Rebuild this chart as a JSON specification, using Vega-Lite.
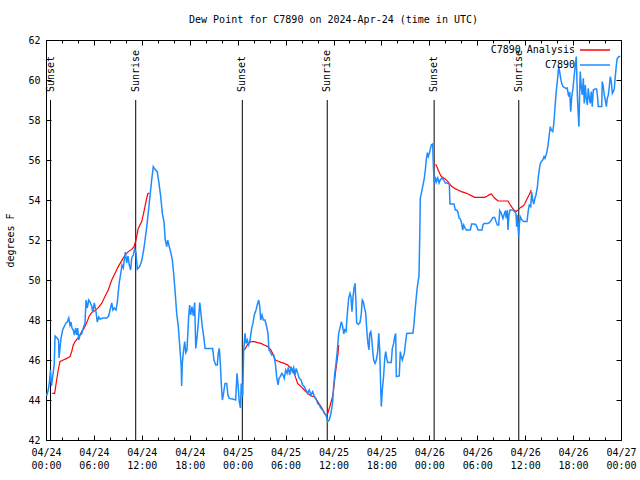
{
"$schema":"https://vega.github.io/schema/vega-lite/v6.json",
"width":575,"height":400,
"autosize":{"type":"none"},
"padding":{"left":46,"top":40,"right":19,"bottom":40},
"title":{"text":"Dew Point for C7890 on 2024-Apr-24 (time in UTC)","font":"DejaVu Sans Mono","fontSize":10,"fontWeight":"normal","color":"black","anchor":"middle","offset":10},
"config":{
 "view":{"stroke":"black","strokeWidth":1},
 "axis":{"labelFont":"DejaVu Sans Mono","labelFontSize":10,"labelColor":"black","titleFont":"DejaVu Sans Mono","titleFontSize":10,"titleFontWeight":"normal","titleColor":"black","tickColor":"black","tickWidth":1,"domain":false,"grid":false},
 "legend":{"labelFont":"DejaVu Sans Mono","labelFontSize":10,"labelColor":"black"}
},
"datasets":{
"analysis":[
{"t":"2024-04-24T00:47Z","v":44.33},{"t":"2024-04-24T01:05Z","v":44.33},{"t":"2024-04-24T01:20Z","v":45.0},{"t":"2024-04-24T01:32Z","v":45.5},{"t":"2024-04-24T01:45Z","v":45.92},{"t":"2024-04-24T02:10Z","v":46.0},{"t":"2024-04-24T02:36Z","v":46.08},{"t":"2024-04-24T03:00Z","v":46.17},{"t":"2024-04-24T03:13Z","v":46.42},{"t":"2024-04-24T03:25Z","v":46.75},{"t":"2024-04-24T03:38Z","v":46.92},{"t":"2024-04-24T03:51Z","v":47.03},{"t":"2024-04-24T04:10Z","v":47.17},{"t":"2024-04-24T04:28Z","v":47.42},{"t":"2024-04-24T04:46Z","v":47.58},{"t":"2024-04-24T05:06Z","v":47.87},{"t":"2024-04-24T05:25Z","v":48.2},{"t":"2024-04-24T05:43Z","v":48.37},{"t":"2024-04-24T06:08Z","v":48.47},{"t":"2024-04-24T06:33Z","v":48.62},{"t":"2024-04-24T06:58Z","v":48.83},{"t":"2024-04-24T07:23Z","v":49.17},{"t":"2024-04-24T07:48Z","v":49.5},{"t":"2024-04-24T08:14Z","v":50.0},{"t":"2024-04-24T08:38Z","v":50.33},{"t":"2024-04-24T09:03Z","v":50.67},{"t":"2024-04-24T09:29Z","v":50.97},{"t":"2024-04-24T09:54Z","v":51.25},{"t":"2024-04-24T10:18Z","v":51.42},{"t":"2024-04-24T10:44Z","v":51.53},{"t":"2024-04-24T11:01Z","v":51.67},{"t":"2024-04-24T11:16Z","v":52.0},{"t":"2024-04-24T11:33Z","v":52.58},{"t":"2024-04-24T11:59Z","v":52.92},{"t":"2024-04-24T12:16Z","v":53.42},{"t":"2024-04-24T12:31Z","v":53.92},{"t":"2024-04-24T12:44Z","v":54.3},{"t":"2024-04-24T12:56Z","v":54.35},
{"t":"2024-04-25T00:50Z","v":null},
{"t":"2024-04-25T00:51Z","v":46.5},{"t":"2024-04-25T01:15Z","v":46.78},{"t":"2024-04-25T01:40Z","v":46.92},{"t":"2024-04-25T02:05Z","v":46.92},{"t":"2024-04-25T02:30Z","v":46.87},{"t":"2024-04-25T02:55Z","v":46.83},{"t":"2024-04-25T03:20Z","v":46.75},{"t":"2024-04-25T03:46Z","v":46.67},{"t":"2024-04-25T04:10Z","v":46.5},{"t":"2024-04-25T04:28Z","v":46.25},{"t":"2024-04-25T04:43Z","v":46.0},{"t":"2024-04-25T05:01Z","v":45.95},{"t":"2024-04-25T05:26Z","v":45.88},{"t":"2024-04-25T05:50Z","v":45.83},{"t":"2024-04-25T06:16Z","v":45.75},{"t":"2024-04-25T06:41Z","v":45.58},{"t":"2024-04-25T06:58Z","v":45.42},{"t":"2024-04-25T07:13Z","v":45.17},{"t":"2024-04-25T07:31Z","v":44.83},{"t":"2024-04-25T07:56Z","v":44.67},{"t":"2024-04-25T08:21Z","v":44.5},{"t":"2024-04-25T08:46Z","v":44.33},{"t":"2024-04-25T09:11Z","v":44.2},{"t":"2024-04-25T09:36Z","v":44.17},{"t":"2024-04-25T10:01Z","v":43.92},{"t":"2024-04-25T10:26Z","v":43.67},{"t":"2024-04-25T10:43Z","v":43.47},{"t":"2024-04-25T10:56Z","v":43.3},{"t":"2024-04-25T11:09Z","v":43.17},{"t":"2024-04-25T11:21Z","v":43.42},{"t":"2024-04-25T11:36Z","v":43.75},{"t":"2024-04-25T11:54Z","v":44.2},{"t":"2024-04-25T12:02Z","v":44.58},{"t":"2024-04-25T12:14Z","v":45.33},{"t":"2024-04-25T12:24Z","v":45.83},{"t":"2024-04-25T12:34Z","v":46.33},{"t":"2024-04-25T12:39Z","v":46.75},
{"t":"2024-04-26T00:34Z","v":null},
{"t":"2024-04-26T00:35Z","v":55.75},{"t":"2024-04-26T00:52Z","v":55.75},{"t":"2024-04-26T01:05Z","v":55.53},{"t":"2024-04-26T01:18Z","v":55.33},{"t":"2024-04-26T01:30Z","v":55.17},{"t":"2024-04-26T01:55Z","v":55.08},{"t":"2024-04-26T02:20Z","v":54.92},{"t":"2024-04-26T02:45Z","v":54.7},{"t":"2024-04-26T03:11Z","v":54.58},{"t":"2024-04-26T03:35Z","v":54.5},{"t":"2024-04-26T04:00Z","v":54.42},{"t":"2024-04-26T04:26Z","v":54.37},{"t":"2024-04-26T04:51Z","v":54.3},{"t":"2024-04-26T05:15Z","v":54.22},{"t":"2024-04-26T05:41Z","v":54.13},{"t":"2024-04-26T06:06Z","v":54.13},{"t":"2024-04-26T06:30Z","v":54.13},{"t":"2024-04-26T06:56Z","v":54.13},{"t":"2024-04-26T07:16Z","v":54.2},{"t":"2024-04-26T07:34Z","v":54.28},{"t":"2024-04-26T07:46Z","v":54.3},{"t":"2024-04-26T08:01Z","v":54.17},{"t":"2024-04-26T08:19Z","v":54.05},{"t":"2024-04-26T08:36Z","v":53.95},{"t":"2024-04-26T09:01Z","v":53.95},{"t":"2024-04-26T09:31Z","v":53.95},{"t":"2024-04-26T09:51Z","v":53.95},{"t":"2024-04-26T10:04Z","v":53.8},{"t":"2024-04-26T10:21Z","v":53.63},{"t":"2024-04-26T10:36Z","v":53.5},{"t":"2024-04-26T10:53Z","v":53.42},{"t":"2024-04-26T11:11Z","v":53.53},{"t":"2024-04-26T11:26Z","v":53.63},{"t":"2024-04-26T11:44Z","v":53.7},{"t":"2024-04-26T11:56Z","v":53.8},{"t":"2024-04-26T12:10Z","v":54.0},{"t":"2024-04-26T12:29Z","v":54.25},{"t":"2024-04-26T12:46Z","v":54.5}
],
"obs":[
{"t":"2024-04-24T00:04Z","v":44.2},{"t":"2024-04-24T00:17Z","v":44.5},{"t":"2024-04-24T00:26Z","v":44.9},{"t":"2024-04-24T00:34Z","v":45.5},{"t":"2024-04-24T00:41Z","v":44.7},{"t":"2024-04-24T00:53Z","v":45.3},{"t":"2024-04-24T01:02Z","v":45.8},{"t":"2024-04-24T01:08Z","v":47.2},{"t":"2024-04-24T01:23Z","v":47.1},{"t":"2024-04-24T01:34Z","v":47.0},{"t":"2024-04-24T01:38Z","v":46.1},{"t":"2024-04-24T01:45Z","v":46.6},{"t":"2024-04-24T01:53Z","v":47.1},{"t":"2024-04-24T02:05Z","v":47.5},{"t":"2024-04-24T02:15Z","v":47.65},{"t":"2024-04-24T02:30Z","v":47.85},{"t":"2024-04-24T02:40Z","v":47.9},{"t":"2024-04-24T02:51Z","v":48.1},{"t":"2024-04-24T03:00Z","v":47.75},{"t":"2024-04-24T03:08Z","v":47.9},{"t":"2024-04-24T03:15Z","v":47.6},{"t":"2024-04-24T03:25Z","v":47.5},{"t":"2024-04-24T03:33Z","v":47.25},{"t":"2024-04-24T03:43Z","v":47.6},{"t":"2024-04-24T03:51Z","v":47.25},{"t":"2024-04-24T03:58Z","v":47.6},{"t":"2024-04-24T04:06Z","v":47.0},{"t":"2024-04-24T04:15Z","v":47.25},{"t":"2024-04-24T04:28Z","v":47.3},{"t":"2024-04-24T04:40Z","v":47.6},{"t":"2024-04-24T04:53Z","v":47.85},{"t":"2024-04-24T05:01Z","v":49.0},{"t":"2024-04-24T05:10Z","v":48.6},{"t":"2024-04-24T05:21Z","v":49.0},{"t":"2024-04-24T05:31Z","v":48.9},{"t":"2024-04-24T05:43Z","v":48.7},{"t":"2024-04-24T05:51Z","v":48.4},{"t":"2024-04-24T06:03Z","v":48.85},{"t":"2024-04-24T06:16Z","v":48.4},{"t":"2024-04-24T06:25Z","v":47.9},{"t":"2024-04-24T06:36Z","v":48.15},{"t":"2024-04-24T06:46Z","v":48.05},{"t":"2024-04-24T07:10Z","v":48.1},{"t":"2024-04-24T07:36Z","v":48.1},{"t":"2024-04-24T07:51Z","v":48.2},{"t":"2024-04-24T08:01Z","v":48.5},{"t":"2024-04-24T08:14Z","v":48.85},{"t":"2024-04-24T08:23Z","v":48.5},{"t":"2024-04-24T08:33Z","v":48.6},{"t":"2024-04-24T08:46Z","v":48.5},{"t":"2024-04-24T08:56Z","v":48.9},{"t":"2024-04-24T09:03Z","v":49.4},{"t":"2024-04-24T09:11Z","v":49.9},{"t":"2024-04-24T09:21Z","v":50.3},{"t":"2024-04-24T09:31Z","v":50.75},{"t":"2024-04-24T09:41Z","v":50.6},{"t":"2024-04-24T09:48Z","v":51.0},{"t":"2024-04-24T09:56Z","v":51.4},{"t":"2024-04-24T10:06Z","v":50.85},{"t":"2024-04-24T10:16Z","v":51.2},{"t":"2024-04-24T10:26Z","v":50.75},{"t":"2024-04-24T10:36Z","v":50.5},{"t":"2024-04-24T10:44Z","v":51.1},{"t":"2024-04-24T10:56Z","v":51.25},{"t":"2024-04-24T11:06Z","v":51.55},{"t":"2024-04-24T11:16Z","v":51.35},{"t":"2024-04-24T11:26Z","v":50.55},{"t":"2024-04-24T11:41Z","v":50.65},{"t":"2024-04-24T11:54Z","v":50.85},{"t":"2024-04-24T12:03Z","v":51.1},{"t":"2024-04-24T12:16Z","v":51.6},{"t":"2024-04-24T12:24Z","v":52.0},{"t":"2024-04-24T12:37Z","v":52.67},{"t":"2024-04-24T12:49Z","v":53.4},{"t":"2024-04-24T13:01Z","v":54.17},{"t":"2024-04-24T13:14Z","v":55.0},{"t":"2024-04-24T13:26Z","v":55.67},{"t":"2024-04-24T13:39Z","v":55.53},{"t":"2024-04-24T13:56Z","v":55.42},{"t":"2024-04-24T14:09Z","v":54.83},{"t":"2024-04-24T14:22Z","v":54.17},{"t":"2024-04-24T14:34Z","v":53.33},{"t":"2024-04-24T14:47Z","v":52.9},{"t":"2024-04-24T14:56Z","v":52.0},{"t":"2024-04-24T15:07Z","v":51.67},{"t":"2024-04-24T15:14Z","v":52.0},{"t":"2024-04-24T15:26Z","v":51.67},{"t":"2024-04-24T15:39Z","v":51.33},{"t":"2024-04-24T15:49Z","v":51.0},{"t":"2024-04-24T15:59Z","v":50.33},{"t":"2024-04-24T16:09Z","v":49.5},{"t":"2024-04-24T16:22Z","v":48.33},{"t":"2024-04-24T16:34Z","v":47.67},{"t":"2024-04-24T16:47Z","v":46.5},{"t":"2024-04-24T16:56Z","v":45.67},{"t":"2024-04-24T16:59Z","v":44.7},{"t":"2024-04-24T17:04Z","v":45.83},{"t":"2024-04-24T17:14Z","v":46.5},{"t":"2024-04-24T17:22Z","v":46.92},{"t":"2024-04-24T17:30Z","v":46.37},{"t":"2024-04-24T17:39Z","v":46.5},{"t":"2024-04-24T17:52Z","v":48.17},{"t":"2024-04-24T17:59Z","v":48.75},{"t":"2024-04-24T18:07Z","v":48.25},{"t":"2024-04-24T18:17Z","v":48.67},{"t":"2024-04-24T18:27Z","v":48.2},{"t":"2024-04-24T18:37Z","v":48.87},{"t":"2024-04-24T18:45Z","v":46.58},{"t":"2024-04-24T18:54Z","v":47.08},{"t":"2024-04-24T19:04Z","v":47.83},{"t":"2024-04-24T19:15Z","v":48.87},{"t":"2024-04-24T19:24Z","v":48.33},{"t":"2024-04-24T19:34Z","v":47.67},{"t":"2024-04-24T19:45Z","v":47.17},{"t":"2024-04-24T19:55Z","v":46.58},{"t":"2024-04-24T20:52Z","v":46.58},{"t":"2024-04-24T21:02Z","v":46.0},{"t":"2024-04-24T21:15Z","v":45.75},{"t":"2024-04-24T21:27Z","v":45.75},{"t":"2024-04-24T21:34Z","v":46.33},{"t":"2024-04-24T21:42Z","v":46.58},{"t":"2024-04-24T21:50Z","v":45.8},{"t":"2024-04-24T21:57Z","v":44.83},{"t":"2024-04-24T22:05Z","v":44.0},{"t":"2024-04-24T22:12Z","v":44.25},{"t":"2024-04-24T22:25Z","v":44.83},{"t":"2024-04-24T22:38Z","v":44.83},{"t":"2024-04-24T22:47Z","v":44.25},{"t":"2024-04-24T22:57Z","v":44.08},{"t":"2024-04-24T23:23Z","v":44.05},{"t":"2024-04-24T23:45Z","v":44.0},{"t":"2024-04-24T23:55Z","v":45.33},
{"t":"2024-04-25T00:05Z","v":44.58},{"t":"2024-04-25T00:12Z","v":43.92},{"t":"2024-04-25T00:21Z","v":43.6},{"t":"2024-04-25T00:27Z","v":44.83},{"t":"2024-04-25T00:38Z","v":44.17},{"t":"2024-04-25T00:45Z","v":46.42},{"t":"2024-04-25T00:55Z","v":47.33},{"t":"2024-04-25T01:03Z","v":46.83},{"t":"2024-04-25T01:12Z","v":47.0},{"t":"2024-04-25T01:23Z","v":46.75},{"t":"2024-04-25T01:33Z","v":47.0},{"t":"2024-04-25T01:45Z","v":47.58},{"t":"2024-04-25T01:55Z","v":47.83},{"t":"2024-04-25T02:05Z","v":48.25},{"t":"2024-04-25T02:18Z","v":48.5},{"t":"2024-04-25T02:27Z","v":48.75},{"t":"2024-04-25T02:38Z","v":49.0},{"t":"2024-04-25T02:46Z","v":48.67},{"t":"2024-04-25T02:53Z","v":48.0},{"t":"2024-04-25T03:03Z","v":48.25},{"t":"2024-04-25T03:13Z","v":48.0},{"t":"2024-04-25T03:25Z","v":48.0},{"t":"2024-04-25T03:35Z","v":47.75},{"t":"2024-04-25T03:48Z","v":47.33},{"t":"2024-04-25T03:55Z","v":46.5},{"t":"2024-04-25T04:05Z","v":46.42},{"t":"2024-04-25T04:16Z","v":46.25},{"t":"2024-04-25T04:31Z","v":46.25},{"t":"2024-04-25T04:43Z","v":45.83},{"t":"2024-04-25T04:53Z","v":45.17},{"t":"2024-04-25T05:03Z","v":44.75},{"t":"2024-04-25T05:11Z","v":45.08},{"t":"2024-04-25T05:20Z","v":45.17},{"t":"2024-04-25T05:31Z","v":45.33},{"t":"2024-04-25T05:41Z","v":45.25},{"t":"2024-04-25T05:50Z","v":45.08},{"t":"2024-04-25T06:01Z","v":45.5},{"t":"2024-04-25T06:11Z","v":45.33},{"t":"2024-04-25T06:20Z","v":45.63},{"t":"2024-04-25T06:31Z","v":45.25},{"t":"2024-04-25T06:41Z","v":45.67},{"t":"2024-04-25T06:50Z","v":45.42},{"t":"2024-04-25T07:01Z","v":45.63},{"t":"2024-04-25T07:11Z","v":45.25},{"t":"2024-04-25T07:20Z","v":45.58},{"t":"2024-04-25T07:31Z","v":45.33},{"t":"2024-04-25T07:43Z","v":45.08},{"t":"2024-04-25T07:56Z","v":45.0},{"t":"2024-04-25T08:08Z","v":44.75},{"t":"2024-04-25T08:21Z","v":44.67},{"t":"2024-04-25T08:33Z","v":44.5},{"t":"2024-04-25T08:46Z","v":44.33},{"t":"2024-04-25T08:58Z","v":44.5},{"t":"2024-04-25T09:11Z","v":44.25},{"t":"2024-04-25T09:24Z","v":44.42},{"t":"2024-04-25T09:36Z","v":44.17},{"t":"2024-04-25T09:48Z","v":44.08},{"t":"2024-04-25T10:01Z","v":43.83},{"t":"2024-04-25T10:13Z","v":43.75},{"t":"2024-04-25T10:26Z","v":43.58},{"t":"2024-04-25T10:39Z","v":43.5},{"t":"2024-04-25T10:51Z","v":43.33},{"t":"2024-04-25T11:04Z","v":43.25},{"t":"2024-04-25T11:16Z","v":42.92},{"t":"2024-04-25T11:28Z","v":43.0},{"t":"2024-04-25T11:41Z","v":43.33},{"t":"2024-04-25T11:54Z","v":43.9},{"t":"2024-04-25T12:00Z","v":44.6},{"t":"2024-04-25T12:09Z","v":45.3},{"t":"2024-04-25T12:19Z","v":45.83},{"t":"2024-04-25T12:29Z","v":46.5},{"t":"2024-04-25T12:39Z","v":47.33},{"t":"2024-04-25T12:51Z","v":47.67},{"t":"2024-04-25T12:59Z","v":47.92},{"t":"2024-04-25T13:09Z","v":47.67},{"t":"2024-04-25T13:17Z","v":47.3},{"t":"2024-04-25T13:24Z","v":47.5},{"t":"2024-04-25T13:34Z","v":47.42},{"t":"2024-04-25T13:44Z","v":48.33},{"t":"2024-04-25T13:54Z","v":49.08},{"t":"2024-04-25T14:04Z","v":49.33},{"t":"2024-04-25T14:11Z","v":49.17},{"t":"2024-04-25T14:19Z","v":48.42},{"t":"2024-04-25T14:27Z","v":49.17},{"t":"2024-04-25T14:34Z","v":49.58},{"t":"2024-04-25T14:42Z","v":49.83},{"t":"2024-04-25T14:49Z","v":48.83},{"t":"2024-04-25T14:54Z","v":47.87},{"t":"2024-04-25T15:06Z","v":47.78},{"t":"2024-04-25T15:19Z","v":47.87},{"t":"2024-04-25T15:29Z","v":48.33},{"t":"2024-04-25T15:36Z","v":49.0},{"t":"2024-04-25T15:44Z","v":48.92},{"t":"2024-04-25T15:51Z","v":48.67},{"t":"2024-04-25T16:02Z","v":48.33},{"t":"2024-04-25T16:12Z","v":47.33},{"t":"2024-04-25T16:19Z","v":46.83},{"t":"2024-04-25T16:27Z","v":46.5},{"t":"2024-04-25T16:32Z","v":47.33},{"t":"2024-04-25T16:40Z","v":47.42},{"t":"2024-04-25T16:47Z","v":47.08},{"t":"2024-04-25T16:55Z","v":46.42},{"t":"2024-04-25T17:02Z","v":46.0},{"t":"2024-04-25T17:12Z","v":45.83},{"t":"2024-04-25T17:22Z","v":46.0},{"t":"2024-04-25T17:32Z","v":46.42},{"t":"2024-04-25T17:40Z","v":47.33},{"t":"2024-04-25T17:47Z","v":46.5},{"t":"2024-04-25T17:55Z","v":44.58},{"t":"2024-04-25T17:59Z","v":43.67},{"t":"2024-04-25T18:07Z","v":44.5},{"t":"2024-04-25T18:17Z","v":45.25},{"t":"2024-04-25T18:25Z","v":46.08},{"t":"2024-04-25T18:32Z","v":46.42},{"t":"2024-04-25T18:40Z","v":46.08},{"t":"2024-04-25T18:47Z","v":45.87},{"t":"2024-04-25T19:14Z","v":45.87},{"t":"2024-04-25T19:22Z","v":46.58},{"t":"2024-04-25T19:32Z","v":46.83},{"t":"2024-04-25T19:40Z","v":47.17},{"t":"2024-04-25T19:47Z","v":47.33},{"t":"2024-04-25T19:52Z","v":45.17},{"t":"2024-04-25T20:14Z","v":45.2},{"t":"2024-04-25T20:22Z","v":46.42},{"t":"2024-04-25T20:29Z","v":46.17},{"t":"2024-04-25T20:37Z","v":46.0},{"t":"2024-04-25T20:44Z","v":46.17},{"t":"2024-04-25T20:52Z","v":46.33},{"t":"2024-04-25T20:59Z","v":46.75},{"t":"2024-04-25T21:10Z","v":47.33},{"t":"2024-04-25T21:57Z","v":47.35},{"t":"2024-04-25T22:05Z","v":47.83},{"t":"2024-04-25T22:12Z","v":48.42},{"t":"2024-04-25T22:20Z","v":49.0},{"t":"2024-04-25T22:27Z","v":49.5},{"t":"2024-04-25T22:35Z","v":49.92},{"t":"2024-04-25T22:42Z","v":50.17},{"t":"2024-04-25T22:48Z","v":52.17},{"t":"2024-04-25T22:52Z","v":54.08},{"t":"2024-04-25T23:00Z","v":54.33},{"t":"2024-04-25T23:07Z","v":54.58},{"t":"2024-04-25T23:15Z","v":54.83},{"t":"2024-04-25T23:22Z","v":55.08},{"t":"2024-04-25T23:30Z","v":55.5},{"t":"2024-04-25T23:37Z","v":56.0},{"t":"2024-04-25T23:45Z","v":56.37},{"t":"2024-04-25T23:52Z","v":56.17},
{"t":"2024-04-26T00:00Z","v":56.33},{"t":"2024-04-26T00:07Z","v":56.53},{"t":"2024-04-26T00:15Z","v":56.75},{"t":"2024-04-26T00:25Z","v":56.8},{"t":"2024-04-26T00:31Z","v":55.6},{"t":"2024-04-26T00:37Z","v":54.85},{"t":"2024-04-26T00:45Z","v":55.15},{"t":"2024-04-26T00:52Z","v":54.9},{"t":"2024-04-26T01:03Z","v":55.1},{"t":"2024-04-26T01:13Z","v":54.85},{"t":"2024-04-26T01:22Z","v":55.0},{"t":"2024-04-26T01:35Z","v":55.1},{"t":"2024-04-26T01:48Z","v":55.0},{"t":"2024-04-26T02:00Z","v":54.85},{"t":"2024-04-26T02:15Z","v":54.85},{"t":"2024-04-26T02:30Z","v":54.8},{"t":"2024-04-26T02:35Z","v":53.8},{"t":"2024-04-26T02:50Z","v":53.8},{"t":"2024-04-26T03:05Z","v":53.8},{"t":"2024-04-26T03:15Z","v":53.5},{"t":"2024-04-26T03:26Z","v":53.5},{"t":"2024-04-26T03:35Z","v":53.4},{"t":"2024-04-26T03:43Z","v":53.1},{"t":"2024-04-26T03:53Z","v":53.05},{"t":"2024-04-26T04:00Z","v":52.9},{"t":"2024-04-26T04:11Z","v":52.5},{"t":"2024-04-26T04:18Z","v":52.75},{"t":"2024-04-26T04:28Z","v":52.6},{"t":"2024-04-26T04:38Z","v":52.5},{"t":"2024-04-26T04:53Z","v":52.5},{"t":"2024-04-26T05:08Z","v":52.5},{"t":"2024-04-26T05:18Z","v":52.8},{"t":"2024-04-26T05:33Z","v":52.8},{"t":"2024-04-26T05:48Z","v":52.78},{"t":"2024-04-26T05:58Z","v":52.65},{"t":"2024-04-26T06:06Z","v":52.5},{"t":"2024-04-26T06:21Z","v":52.5},{"t":"2024-04-26T06:36Z","v":52.5},{"t":"2024-04-26T06:43Z","v":52.75},{"t":"2024-04-26T06:51Z","v":52.83},{"t":"2024-04-26T07:03Z","v":52.83},{"t":"2024-04-26T07:18Z","v":52.83},{"t":"2024-04-26T07:31Z","v":52.87},{"t":"2024-04-26T07:46Z","v":53.0},{"t":"2024-04-26T07:58Z","v":53.13},{"t":"2024-04-26T08:11Z","v":53.13},{"t":"2024-04-26T08:21Z","v":52.92},{"t":"2024-04-26T08:31Z","v":52.75},{"t":"2024-04-26T08:41Z","v":52.75},{"t":"2024-04-26T08:49Z","v":53.47},{"t":"2024-04-26T09:01Z","v":53.33},{"t":"2024-04-26T09:13Z","v":53.08},{"t":"2024-04-26T09:21Z","v":53.25},{"t":"2024-04-26T09:31Z","v":53.47},{"t":"2024-04-26T09:38Z","v":53.08},{"t":"2024-04-26T09:46Z","v":53.5},{"t":"2024-04-26T09:51Z","v":52.5},{"t":"2024-04-26T09:58Z","v":53.25},{"t":"2024-04-26T10:06Z","v":53.5},{"t":"2024-04-26T10:16Z","v":53.5},{"t":"2024-04-26T10:29Z","v":53.5},{"t":"2024-04-26T10:41Z","v":53.42},{"t":"2024-04-26T10:51Z","v":53.33},{"t":"2024-04-26T10:56Z","v":52.67},{"t":"2024-04-26T11:01Z","v":53.25},{"t":"2024-04-26T11:06Z","v":52.75},{"t":"2024-04-26T11:11Z","v":52.17},{"t":"2024-04-26T11:16Z","v":52.75},{"t":"2024-04-26T11:23Z","v":53.17},{"t":"2024-04-26T11:36Z","v":53.0},{"t":"2024-04-26T11:49Z","v":52.92},{"t":"2024-04-26T12:01Z","v":52.92},{"t":"2024-04-26T12:14Z","v":52.92},{"t":"2024-04-26T12:24Z","v":53.5},{"t":"2024-04-26T12:31Z","v":53.75},{"t":"2024-04-26T12:42Z","v":53.67},{"t":"2024-04-26T12:49Z","v":54.4},{"t":"2024-04-26T12:57Z","v":54.0},{"t":"2024-04-26T13:04Z","v":53.8},{"t":"2024-04-26T13:14Z","v":54.1},{"t":"2024-04-26T13:21Z","v":54.25},{"t":"2024-04-26T13:31Z","v":54.6},{"t":"2024-04-26T13:39Z","v":55.17},{"t":"2024-04-26T13:46Z","v":55.5},{"t":"2024-04-26T13:54Z","v":55.83},{"t":"2024-04-26T14:01Z","v":55.92},{"t":"2024-04-26T14:12Z","v":56.0},{"t":"2024-04-26T14:22Z","v":56.17},{"t":"2024-04-26T14:29Z","v":56.08},{"t":"2024-04-26T14:37Z","v":56.25},{"t":"2024-04-26T14:44Z","v":56.42},{"t":"2024-04-26T14:52Z","v":56.75},{"t":"2024-04-26T15:01Z","v":57.25},{"t":"2024-04-26T15:09Z","v":57.67},{"t":"2024-04-26T15:16Z","v":57.5},{"t":"2024-04-26T15:27Z","v":57.42},{"t":"2024-04-26T15:34Z","v":57.75},{"t":"2024-04-26T15:42Z","v":58.42},{"t":"2024-04-26T15:49Z","v":59.08},{"t":"2024-04-26T15:57Z","v":59.67},{"t":"2024-04-26T16:04Z","v":60.08},{"t":"2024-04-26T16:12Z","v":60.67},{"t":"2024-04-26T16:19Z","v":60.42},{"t":"2024-04-26T16:27Z","v":60.08},{"t":"2024-04-26T16:34Z","v":59.83},{"t":"2024-04-26T16:44Z","v":59.67},{"t":"2024-04-26T16:54Z","v":59.63},{"t":"2024-04-26T17:07Z","v":59.58},{"t":"2024-04-26T17:16Z","v":59.6},{"t":"2024-04-26T17:27Z","v":59.17},{"t":"2024-04-26T17:35Z","v":59.4},{"t":"2024-04-26T17:42Z","v":58.42},{"t":"2024-04-26T17:50Z","v":59.17},{"t":"2024-04-26T17:59Z","v":59.58},{"t":"2024-04-26T18:09Z","v":60.25},{"t":"2024-04-26T18:17Z","v":60.75},{"t":"2024-04-26T18:24Z","v":61.17},{"t":"2024-04-26T18:32Z","v":59.25},{"t":"2024-04-26T18:39Z","v":58.25},{"t":"2024-04-26T18:44Z","v":57.67},{"t":"2024-04-26T18:50Z","v":59.58},{"t":"2024-04-26T18:54Z","v":60.42},{"t":"2024-04-26T19:02Z","v":59.58},{"t":"2024-04-26T19:09Z","v":59.25},{"t":"2024-04-26T19:17Z","v":60.08},{"t":"2024-04-26T19:24Z","v":58.83},{"t":"2024-04-26T19:32Z","v":59.75},{"t":"2024-04-26T19:39Z","v":59.08},{"t":"2024-04-26T19:47Z","v":58.75},{"t":"2024-04-26T19:54Z","v":59.58},{"t":"2024-04-26T20:02Z","v":59.08},{"t":"2024-04-26T20:09Z","v":58.83},{"t":"2024-04-26T20:17Z","v":59.42},{"t":"2024-04-26T20:24Z","v":58.67},{"t":"2024-04-26T20:32Z","v":59.5},{"t":"2024-04-26T20:45Z","v":59.55},{"t":"2024-04-26T20:57Z","v":59.55},{"t":"2024-04-26T21:05Z","v":59.08},{"t":"2024-04-26T21:09Z","v":58.67},{"t":"2024-04-26T21:22Z","v":58.67},{"t":"2024-04-26T21:35Z","v":58.67},{"t":"2024-04-26T21:39Z","v":59.92},{"t":"2024-04-26T21:47Z","v":59.67},{"t":"2024-04-26T21:54Z","v":59.25},{"t":"2024-04-26T22:02Z","v":59.0},{"t":"2024-04-26T22:10Z","v":58.67},{"t":"2024-04-26T22:17Z","v":59.08},{"t":"2024-04-26T22:25Z","v":59.25},{"t":"2024-04-26T22:32Z","v":59.67},{"t":"2024-04-26T22:40Z","v":60.17},{"t":"2024-04-26T22:47Z","v":59.92},{"t":"2024-04-26T22:55Z","v":59.33},{"t":"2024-04-26T23:02Z","v":59.42},{"t":"2024-04-26T23:10Z","v":59.58},{"t":"2024-04-26T23:17Z","v":60.17},{"t":"2024-04-26T23:25Z","v":60.75},{"t":"2024-04-26T23:32Z","v":61.08},{"t":"2024-04-26T23:45Z","v":61.17},{"t":"2024-04-26T23:55Z","v":61.17}
],
"sun":[
{"t":"2024-04-24T00:34Z","event":"Sunset"},{"t":"2024-04-24T11:14Z","event":"Sunrise"},
{"t":"2024-04-25T00:35Z","event":"Sunset"},{"t":"2024-04-25T11:13Z","event":"Sunrise"},
{"t":"2024-04-26T00:36Z","event":"Sunset"},{"t":"2024-04-26T11:12Z","event":"Sunrise"}
]
},
"layer":[
{"data":{"name":"sun"},"mark":{"type":"rule","color":"black","strokeWidth":1},
 "encoding":{
  "x":{"field":"t","type":"temporal","scale":{"type":"utc","domain":[1713916800000,1714176000000]},
   "axis":{"orient":"top","values":[1713916800000,1713938400000,1713960000000,1713981600000,1714003200000,1714024800000,1714046400000,1714068000000,1714089600000,1714111200000,1714132800000,1714154400000,1714176000000],"labels":false,"tickSize":-5,"title":null}},
  "y":{"datum":59.0,"type":"quantitative","scale":{"domain":[42,62],"nice":false,"zero":false},"axis":{"orient":"right","values":[42,44,46,48,50,52,54,56,58,60,62],"labels":false,"tickSize":-5,"title":null}},
  "y2":{"datum":42}
 }},
{"data":{"name":"sun"},"mark":{"type":"text","angle":270,"align":"left","baseline":"middle","font":"DejaVu Sans Mono","fontSize":10,"color":"black"},
 "encoding":{
  "x":{"field":"t","type":"temporal","axis":{"orient":"top","values":[1713924000000,1713931200000,1713945600000,1713952800000,1713967200000,1713974400000,1713988800000,1713996000000,1714010400000,1714017600000,1714032000000,1714039200000,1714053600000,1714060800000,1714075200000,1714082400000,1714096800000,1714104000000,1714118400000,1714125600000,1714140000000,1714147200000,1714161600000,1714168800000],"labels":false,"tickSize":-3,"title":null}},
  "y":{"datum":59.4,"type":"quantitative","axis":null},
  "text":{"field":"event"}
 }},
{"data":{"name":"analysis"},"mark":{"type":"line","strokeWidth":1.2,"interpolate":"linear"},
 "encoding":{
  "x":{"field":"t","type":"temporal","axis":{"orient":"bottom","values":[1713916800000,1713938400000,1713960000000,1713981600000,1714003200000,1714024800000,1714046400000,1714068000000,1714089600000,1714111200000,1714132800000,1714154400000,1714176000000],"tickSize":-5,"labelPadding":12,"labelFlush":false,"labelExpr":"[utcFormat(datum.value,'%m/%d'), utcFormat(datum.value,'%H:%M')]","labelLineHeight":13,"title":null}},
  "y":{"field":"v","type":"quantitative","axis":{"orient":"left","values":[42,44,46,48,50,52,54,56,58,60,62],"tickSize":-5,"labelPadding":11,"title":"degrees F","titlePadding":12}},
  "color":{"datum":"C7890 Analysis","type":"nominal","scale":{"domain":["C7890 Analysis","C7890"],"range":["#ff0000","#1e8cff"]},
   "legend":{"title":null,"orient":"none","legendX":543,"legendY":4,"symbolType":"M-3,0H3","symbolSize":100,"symbolStrokeWidth":1.5,"labelAlign":"right","labelOffset":-26,"rowPadding":4,"padding":0}}
 }},
{"data":{"name":"obs"},"mark":{"type":"line","strokeWidth":1.5,"interpolate":"linear"},
 "encoding":{
  "x":{"field":"t","type":"temporal","axis":{"orient":"bottom","values":[1713924000000,1713931200000,1713945600000,1713952800000,1713967200000,1713974400000,1713988800000,1713996000000,1714010400000,1714017600000,1714032000000,1714039200000,1714053600000,1714060800000,1714075200000,1714082400000,1714096800000,1714104000000,1714118400000,1714125600000,1714140000000,1714147200000,1714161600000,1714168800000],"labels":false,"tickSize":-3,"title":null}},
  "y":{"field":"v","type":"quantitative","axis":null},
  "color":{"datum":"C7890","type":"nominal"}
 }}
],
"resolve":{"axis":{"x":"independent","y":"independent"}}
}
